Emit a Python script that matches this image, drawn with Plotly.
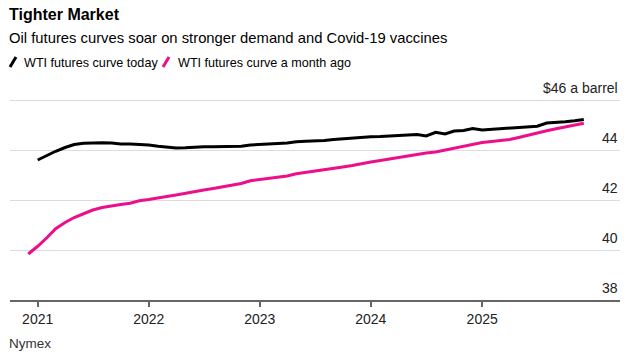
import pandas as pd
import plotly.graph_objects as go

# Data (monthly contract values, $/barrel)
today_start = "2021-01-01"
today_values = [43.6, 43.8, 43.95, 44.1, 44.22, 44.27, 44.29, 44.29, 44.28, 44.24, 44.24, 44.23,
                44.2, 44.15, 44.12, 44.08, 44.09, 44.12, 44.13, 44.13, 44.13, 44.13, 44.15, 44.2,
                44.23, 44.23, 44.26, 44.28, 44.33, 44.35, 44.35, 44.38, 44.42, 44.45, 44.48, 44.5,
                44.53, 44.54, 44.56, 44.6, 44.62, 44.62, 44.56, 44.71, 44.64, 44.76, 44.78, 44.86,
                44.8, 44.83, 44.86, 44.87, 44.9, 44.93, 44.95, 45.08, 45.1, 45.13, 45.17, 45.22]
month_ago_start = "2020-12-01"
month_ago_values = [39.84, 40.15, 40.5, 40.85, 41.1, 41.3, 41.45, 41.6, 41.7, 41.77, 41.82, 41.87, 41.97,
                    42.02, 42.07, 42.14, 42.2, 42.27, 42.35, 42.4, 42.46, 42.52, 42.58, 42.66, 42.77,
                    42.82, 42.86, 42.9, 42.96, 43.05, 43.1, 43.15, 43.2, 43.26, 43.32, 43.38, 43.46,
                    43.52, 43.58, 43.64, 43.7, 43.74, 43.82, 43.88, 43.92, 44.0, 44.08, 44.17, 44.24,
                    44.3, 44.34, 44.37, 44.42, 44.5, 44.6, 44.68, 44.77, 44.85, 44.92, 44.97, 45.07]
series_names = ["WTI futures curve today", "WTI futures curve a month ago"]
series_colors = ["#000000", "#ec0f8c"]
x_tick_vals = ["2021-01-01", "2022-01-01", "2023-01-01", "2024-01-01", "2025-01-01"]
x_tick_text = ["2021", "2022", "2023", "2024", "2025"]
y_tick_vals = [38, 40, 42, 44, 46]
y_tick_text = ["38", "40", "42", "44", "$46 a barrel"]

today_dates = pd.date_range(today_start, periods=len(today_values), freq="MS")
month_ago_dates = pd.date_range(month_ago_start, periods=len(month_ago_values), freq="MS")

FONT = "Liberation Sans, Arial, sans-serif"
W, H = 631, 356
L, R, T, B = 10, 11, 90, 56
pw, ph = W - L - R, H - T - B

def px(x):
    return (x - L) / pw

def py(y):
    return (H - B - y) / ph

fig = go.Figure()
fig.add_trace(go.Scatter(x=month_ago_dates, y=month_ago_values, mode="lines",
                         line=dict(color=series_colors[1], width=3), name=series_names[1]))
fig.add_trace(go.Scatter(x=today_dates, y=today_values, mode="lines",
                         line=dict(color=series_colors[0], width=3), name=series_names[0]))

annotations = [
    dict(text="<b>Tighter Market</b>", x=px(7), y=py(15), xanchor="left", yanchor="middle",
         font=dict(size=16, color="#000"), showarrow=False, xref="paper", yref="paper"),
    dict(text="Oil futures curves soar on stronger demand and Covid-19 vaccines", x=px(7), y=py(38),
         xanchor="left", yanchor="middle", font=dict(size=14.8, color="#000"), showarrow=False,
         xref="paper", yref="paper"),
    dict(text=series_names[0], x=px(22), y=py(63), xanchor="left", yanchor="middle",
         font=dict(size=12.6, color="#000"), showarrow=False, xref="paper", yref="paper"),
    dict(text=series_names[1], x=px(176), y=py(63), xanchor="left", yanchor="middle",
         font=dict(size=12.6, color="#000"), showarrow=False, xref="paper", yref="paper"),
    dict(text="Nymex", x=px(7), y=py(343), xanchor="left", yanchor="middle",
         font=dict(size=13.5, color="#333"), showarrow=False, xref="paper", yref="paper"),
]
for v, t in zip(y_tick_vals, y_tick_text):
    annotations.append(dict(text=t, x=1, y=v, xref="paper", yref="y", xanchor="right",
                            yanchor="bottom", yshift=2, showarrow=False,
                            font=dict(size=14, color="#222")))

shapes = [
    dict(type="line", xref="paper", yref="paper", x0=px(10), y0=py(67), x1=px(16), y1=py(57),
         line=dict(color=series_colors[0], width=3)),
    dict(type="line", xref="paper", yref="paper", x0=px(163), y0=py(67), x1=px(169), y1=py(57),
         line=dict(color=series_colors[1], width=3)),
]

fig.update_layout(
    width=W, height=H, margin=dict(l=L, r=R, t=T, b=B),
    paper_bgcolor="white", plot_bgcolor="white",
    font=dict(family=FONT, color="#222"),
    showlegend=False, hovermode=False,
    annotations=annotations, shapes=shapes,
    xaxis=dict(range=["2020-10-02", "2026-03-30"], tickvals=x_tick_vals, ticktext=x_tick_text,
               ticks="outside", ticklen=5, tickwidth=1.5, tickcolor="#666",
               showline=True, linecolor="#666", linewidth=2, showgrid=False,
               tickfont=dict(size=14, color="#222"), zeroline=False),
    yaxis=dict(range=[38, 46.4], tickvals=y_tick_vals, showticklabels=False,
               showgrid=True, gridcolor="#dcdcdc", gridwidth=1, zeroline=False, ticks=""),
)

fig.write_html("out.html", config={"displayModeBar": False},
               post_script="document.body.style.margin='0';")
